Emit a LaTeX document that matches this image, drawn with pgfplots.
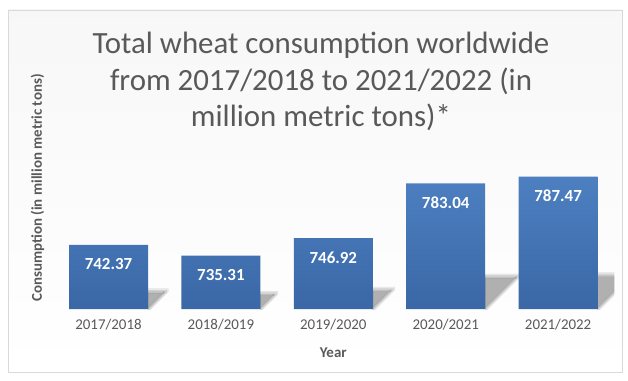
\documentclass[border=0pt]{standalone}
\usepackage{pgfplots}
\pgfplotsset{compat=1.18}
\usepackage{pgfplotstable}
\usepackage{fontspec}
\setmainfont{Carlito}
\usetikzlibrary{fadings}
\definecolor{txt}{HTML}{595959}
\definecolor{bartop}{HTML}{4D80C1}
\definecolor{barbot}{HTML}{3A67A6}

\pgfplotstableread{
x v l
0 742.37 742.37
1 735.31 735.31
2 746.92 746.92
3 783.04 783.04
4 787.47 787.47
}\wheat

\pgfdeclareplotmark{barshadow}{%
  \pgfmathsetmacro{\HH}{(\hh-700)*1.5125}%
  \pgfmathsetmacro{\hs}{0.24*\HH+2}%
  \pgfmathsetmacro{\B}{-\HH}%
  \pgfmathsetmacro{\T}{-\HH+\hs}%
  \foreach \s/\o in {3/0.07,1.5/0.08,0/0.09,-1.5/0.1}{%
    \fill[black, opacity=\o]
      (39.5bp,\B bp-\s bp) -- (39.5bp+\hs bp+\s bp,\T bp) -- (39.5bp+\hs bp+\s bp,\T bp+\s bp)
      -- (39.5bp,\T bp+\s bp) -- cycle;
  }%
}

\begin{document}
\begin{tikzpicture}[x=1bp,y=1bp]
\useasboundingbox (0,0) rectangle (628,380);
\fill[white] (0,0) rectangle (628,380);
\shade[top color=white!97!black, middle color=white!88!black, bottom color=white]
  (8,8) rectangle (622,370);
\draw[white!85!black, line width=0.6bp] (8,8) rectangle (622,370);

\node[text=txt, align=center, font=\fontsize{31}{36.5}\selectfont] at (321,298.5)
  {Total wheat consumption worldwide\\from 2017/2018 to 2021/2022 (in\\million metric tons)*};

\begin{axis}[
  at={(52.3bp,71bp)}, anchor=south west,
  scale only axis, width=562bp, height=242bp,
  xmin=-0.5, xmax=4.5, ymin=700, ymax=860,
  axis line style={draw=none},
  major tick style={draw=none},
  ytick=\empty,
  xtick={0,1,2,3,4},
  xticklabels={2017/2018,2018/2019,2019/2020,2020/2021,2021/2022},
  xticklabel style={font=\fontsize{15}{18}\selectfont, text=txt, anchor=center, yshift=-16bp},
  xlabel={Year},
  xlabel style={at={(axis description cs:0.5,0)}, anchor=center, yshift=-44bp,
    font=\bfseries\fontsize{15}{18}\selectfont, text=txt},
  ylabel={Consumption (in million metric tons)},
  ylabel style={at={(axis description cs:-0.0263,0.5)}, anchor=center, rotate=0,
    font=\bfseries\fontsize{15}{17}\selectfont, text=txt},
  clip marker paths=true,
]
\addplot[only marks, mark=barshadow, visualization depends on={y\as\hh}]
  table[x=x, y=v] {\wheat};
\addplot[ybar, bar width=79bp, draw=none, top color=bartop, bottom color=barbot,
  nodes near coords, point meta=explicit symbolic,
  every node near coord/.append style={font=\bfseries\fontsize{17}{20}\selectfont,
    text=white, anchor=center, yshift=-19.5bp}]
  table[x=x, y=v, meta=l] {\wheat};
\end{axis}
\end{tikzpicture}
\end{document}
